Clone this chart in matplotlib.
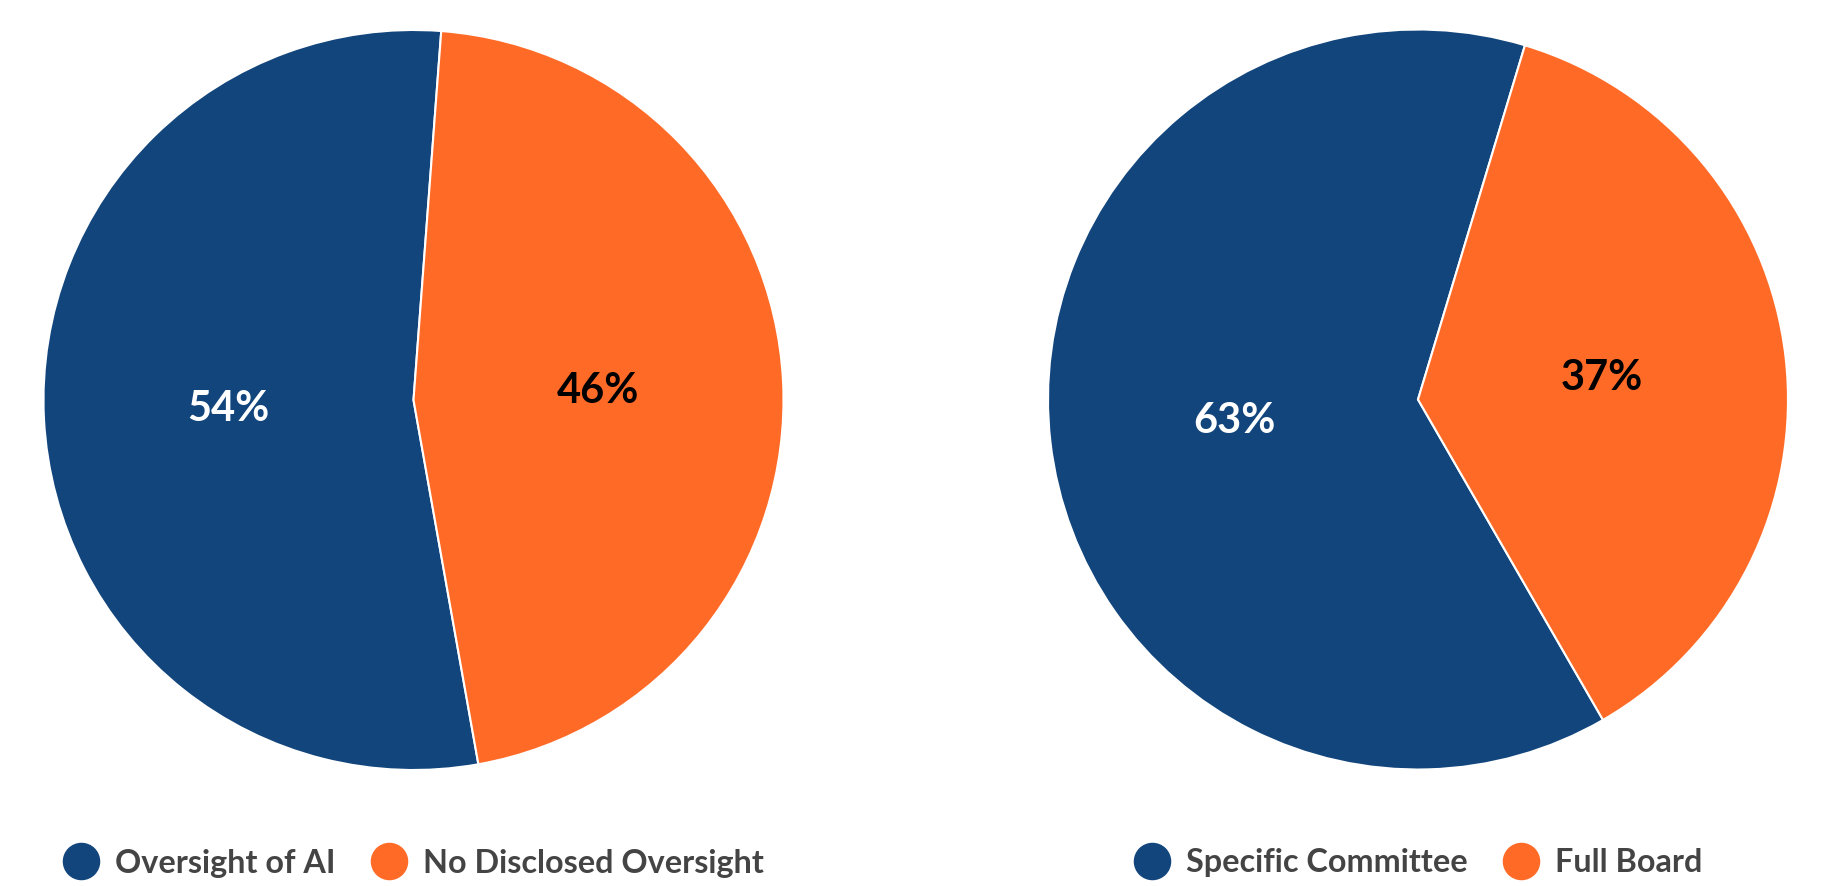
import matplotlib.pyplot as plt
from matplotlib.lines import Line2D

# datos
labels_left = ["Oversight of AI", "No Disclosed Oversight"]
values_left = [54, 46]
labels_right = ["Specific Committee", "Full Board"]
values_right = [63, 37]

blue = "#11457C"
orange = "#FF6B27"
colors = [blue, orange]

plt.rcParams["font.family"] = ["Lato", "DejaVu Sans"]

W, H = 1848, 886
fig = plt.figure(figsize=(W / 100, H / 100), dpi=100)

R = 370  # radio en px


def make_pie(cx, cy, values, labels, start):
    # cx, cy en px de la imagen (y desde arriba)
    ax = fig.add_axes([(cx - R) / W, (H - cy - R) / H, 2 * R / W, 2 * R / H])
    wedges, texts, autotexts = ax.pie(
        values, colors=colors, startangle=start, counterclock=False,
        radius=1, autopct=lambda p: "%d%%" % round(p), pctdistance=0.5,
        wedgeprops=dict(edgecolor="white", linewidth=1.5),
        textprops=dict(fontsize=30, fontweight="bold"))
    autotexts[0].set_color("white")
    autotexts[1].set_color("black")
    ax.set_xlim(-1, 1)
    ax.set_ylim(-1, 1)
    ax.set_aspect("equal")
    ax.axis("off")

    handles = [Line2D([], [], marker="o", linestyle="none", markersize=26,
                      markerfacecolor=c, markeredgecolor=c) for c in colors]
    leg = ax.legend(handles, labels, loc="center", ncol=2, frameon=False,
                    bbox_to_anchor=(0.5, (H - 863 - (H - cy - R)) / (2 * R)),
                    prop=dict(size=23.3, weight="bold"), handlelength=1.1,
                    handletextpad=0.5, columnspacing=1.1, borderaxespad=0)
    for t in leg.get_texts():
        t.set_color("#444444")
    return ax


make_pie(413.5, 400, values_left, labels_left, 90 - 169.9)
make_pie(1418, 399.5, values_right, labels_right, 90 - 150.0)

fig.savefig("out.png", dpi=100)
